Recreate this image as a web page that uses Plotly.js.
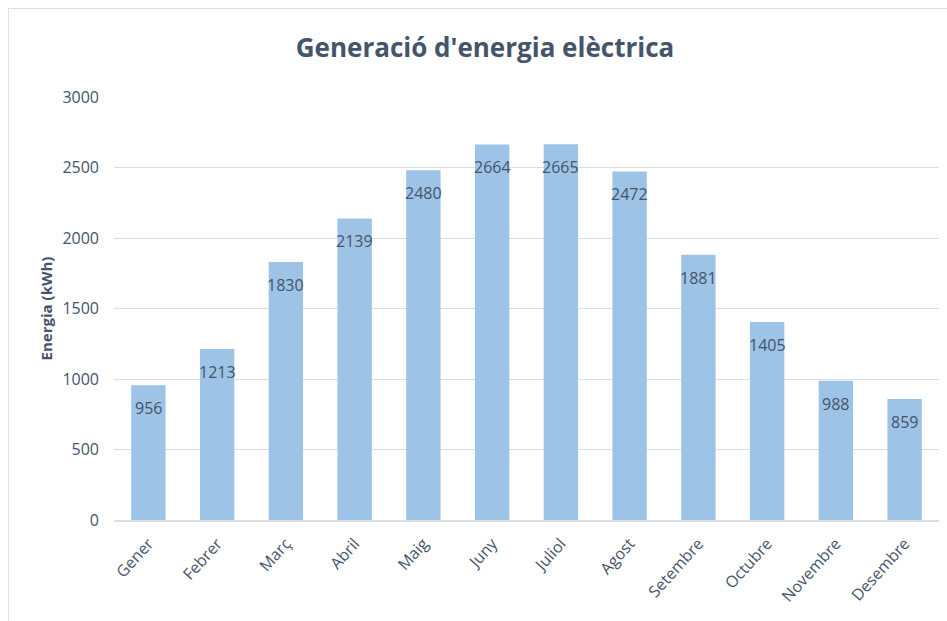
<!DOCTYPE html>
<html>
<head>
<meta charset="utf-8">
<script src="https://cdn.plot.ly/plotly-3.0.1.min.js"></script>
<style>
html,body{margin:0;padding:0;background:#fff;overflow:hidden;}
#chart{position:absolute;left:0;top:0;width:947px;height:621px;}
#frame{position:absolute;left:8px;top:8px;width:1000px;height:700px;border:1px solid #DCE0E8;pointer-events:none;}
</style>
</head>
<body>
<div id="chart"></div>
<div id="frame"></div>
<script>
const months = ["Gener","Febrer","Març","Abril","Maig","Juny","Juliol","Agost","Setembre","Octubre","Novembre","Desembre"];
const energy = [956,1213,1830,2139,2480,2664,2665,2472,1881,1405,988,859];
const yTicks = [0,500,1000,1500,2000,2500,3000];

const textColor = "#44546A";
const font = "'Open Sans', 'Noto Sans', sans-serif";

const trace = {
  type: "bar",
  x: months,
  y: energy,
  marker: {color: "#9DC3E6"},
  hoverinfo: "x+y"
};

const annotations = months.map((m, i) => ({
  x: m, y: energy[i], xref: "x", yref: "y",
  text: String(energy[i]),
  showarrow: false,
  yanchor: "middle",
  yshift: -23,
  font: {family: font, size: 16, color: textColor}
}));

const layout = {
  width: 947, height: 621,
  margin: {l: 114, r: 8, t: 97, b: 101},
  paper_bgcolor: "#fff",
  plot_bgcolor: "#fff",
  bargap: 0.5,
  showlegend: false,
  title: {
    text: "<b>Generació d'energia elèctrica</b>",
    font: {family: font, size: 26, color: textColor},
    x: 485/947, xref: "container", xanchor: "center",
    y: 1 - 48/621, yref: "container", yanchor: "middle"
  },
  xaxis: {
    type: "category",
    tickangle: -48,
    tickfont: {family: font, size: 16, color: textColor},
    ticklabelstandoff: 6,
    showgrid: false,
    showline: true,
    linecolor: "#D9DEE6",
    linewidth: 2,
    ticks: "",
    fixedrange: true
  },
  yaxis: {
    range: [0, 3000],
    tickvals: yTicks,
    ticktext: yTicks.map(String),
    tickfont: {family: font, size: 16, color: textColor},
    ticklabelstandoff: 14,
    showgrid: true,
    gridcolor: "#D9DEE6",
    gridwidth: 1,
    zeroline: false,
    showline: false,
    ticks: "",
    ticklen: 0,
    title: {
      text: "<b>Energia (kWh)</b>",
      font: {family: font, size: 15, color: textColor},
      standoff: 6
    },
    fixedrange: true
  },
  annotations: annotations
};

Plotly.newPlot("chart", [trace], layout, {displayModeBar: false, staticPlot: true});
</script>
</body>
</html>
